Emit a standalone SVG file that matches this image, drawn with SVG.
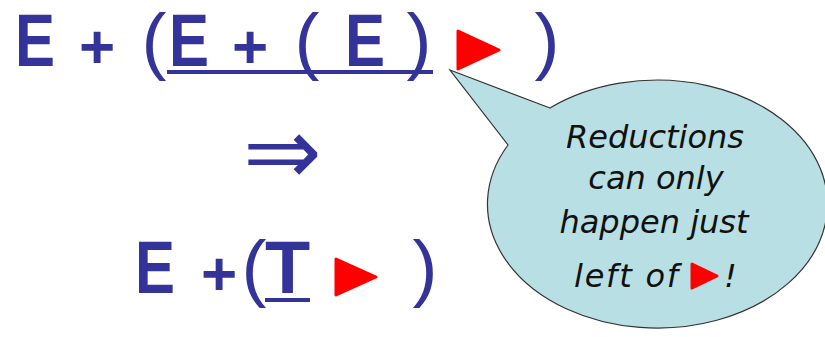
<svg xmlns="http://www.w3.org/2000/svg" width="825" height="337" viewBox="0 0 825 337">
  <style>
    .sym { font-family: "Liberation Sans", Arial, sans-serif; font-weight: bold; fill: #333399; text-anchor: middle; }
    .par { font-family: "Liberation Sans", Arial, sans-serif; font-weight: normal; fill: #333399; text-anchor: middle; font-size: 75px; }
    .big { font-size: 74px; }
    .plus { font-size: 62px; }
    .arr { font-family: "DejaVu Sans", sans-serif; fill: #333399; text-anchor: middle; font-size: 94px; }
    .tri { fill: #ff0000; stroke: #ff0000; stroke-width: 3; stroke-linejoin: round; }
    .ul { fill: #333399; }
    .note { font-family: "DejaVu Sans", Verdana, sans-serif; font-style: italic; font-size: 32px; fill: #111111; }
    .bubble { fill: #b8dfe3; stroke: #333333; stroke-width: 1.2; }
  </style>
  <rect width="825" height="337" fill="#ffffff"/>

  <g id="line-top">
    <rect class="ul" x="167" y="70" width="266" height="4"/>
    <text class="sym big" x="35" y="66" textLength="40" lengthAdjust="spacingAndGlyphs">E</text>
    <text class="sym plus" x="97" y="68">+</text>
    <text class="par" x="154" y="66">(</text>
    <text class="sym big" x="189" y="66" textLength="40" lengthAdjust="spacingAndGlyphs">E</text>
    <text class="sym plus" x="250" y="68">+</text>
    <text class="par" x="307" y="66">(</text>
    <text class="sym big" x="365" y="66" textLength="40" lengthAdjust="spacingAndGlyphs">E</text>
    <text class="par" x="419" y="66">)</text>
    <polygon class="tri" points="458,31 499,50 458,69"/>
    <text class="par" x="547" y="66">)</text>
  </g>

  <g id="arrow">
    <text class="arr" x="282.5" y="184">⇒</text>
  </g>

  <g id="line-bottom">
    <rect class="ul" x="265" y="298" width="45" height="4"/>
    <text class="sym big" x="155" y="293" textLength="40" lengthAdjust="spacingAndGlyphs">E</text>
    <text class="sym plus" x="219" y="295">+</text>
    <text class="par" x="254" y="293">(</text>
    <text class="sym big" x="287.5" y="293">T</text>
    <polygon class="tri" points="336,259 376,277 336,295"/>
    <text class="par" x="425" y="293">)</text>
  </g>

  <g id="callout">
    <path class="bubble" d="M550,108 L450,70 L508,145 A170,124 0 1 0 550,108 Z"/>
    <text class="note" x="655" y="148" text-anchor="middle">Reductions</text>
    <text class="note" x="656" y="189" text-anchor="middle">can only</text>
    <text class="note" x="654" y="233" text-anchor="middle">happen just</text>
    <text class="note" x="574" y="287" textLength="104" lengthAdjust="spacing">left of</text>
    <polygon class="tri" points="692,264 717,276 692,288"/>
    <text class="note" x="724" y="287">!</text>
  </g>
</svg>
